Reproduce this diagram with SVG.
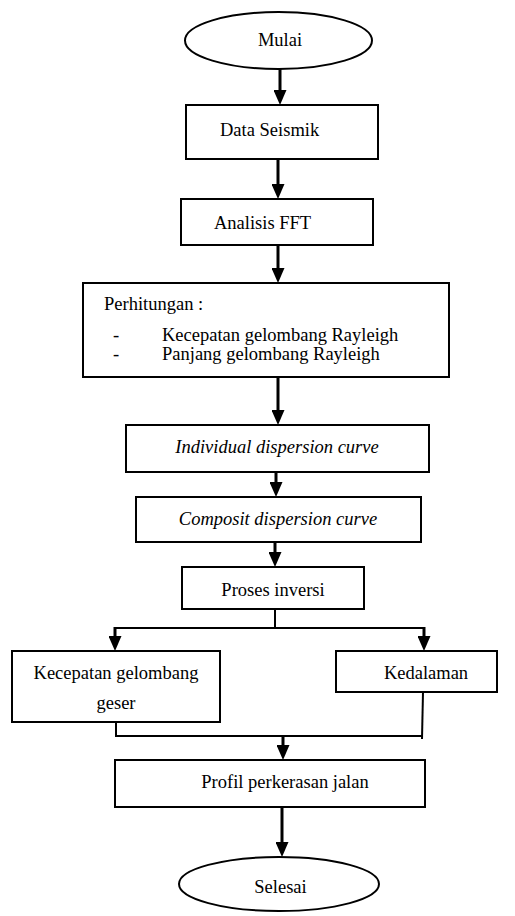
<svg xmlns="http://www.w3.org/2000/svg" width="515" height="916" viewBox="0 0 515 916">
<style>
.n{fill:#fff;stroke:#000;stroke-width:2}
.t{font-family:"Liberation Serif","Times New Roman",serif;font-size:18.5px;fill:#000}
.c{text-anchor:middle}
.i{font-style:italic}
.ln{fill:none;stroke:#000;stroke-width:2}
.sh{fill:none;stroke:#000;stroke-width:3}
</style>
<defs>
<marker id="ah" markerUnits="userSpaceOnUse" viewBox="0 0 15 13" markerWidth="15" markerHeight="13" refX="3" refY="6.5" orient="auto">
<path d="M0,0 L15,6.5 L0,13 z" fill="#000"/>
</marker>
</defs>
<rect width="515" height="916" fill="#fff"/>
<g id="connectors">
<line class="sh" x1="280" y1="69" x2="280" y2="93" marker-end="url(#ah)"/>
<line class="sh" x1="278" y1="159" x2="278" y2="187" marker-end="url(#ah)"/>
<line class="sh" x1="278" y1="245" x2="278" y2="271" marker-end="url(#ah)"/>
<line class="sh" x1="278" y1="377" x2="278" y2="413" marker-end="url(#ah)"/>
<line class="sh" x1="276" y1="472" x2="276" y2="485" marker-end="url(#ah)"/>
<line class="sh" x1="275" y1="542" x2="275" y2="555" marker-end="url(#ah)"/>
<polyline class="ln" points="275,609 275,628"/>
<polyline class="ln" points="115,628 424,628"/>
<line class="sh" x1="115" y1="627" x2="115" y2="639" marker-end="url(#ah)"/>
<line class="sh" x1="424" y1="627" x2="424" y2="639" marker-end="url(#ah)"/>
<polyline class="ln" points="116,722 116,736 422,736"/>
<polyline class="ln" points="423,692 422,739"/>
<line class="sh" x1="283" y1="736" x2="283" y2="748" marker-end="url(#ah)"/>
<line class="sh" x1="282" y1="807" x2="282" y2="845" marker-end="url(#ah)"/>
</g>
<g id="mulai">
<ellipse class="n" cx="278.5" cy="40.5" rx="93.5" ry="28.5"/>
<text class="t c" x="280" y="46">Mulai</text>
</g>
<g id="data-seismik">
<rect class="n" x="186" y="105" width="192" height="54"/>
<text class="t" x="220" y="136">Data Seismik</text>
</g>
<g id="analisis-fft">
<rect class="n" x="181" y="199" width="192" height="46"/>
<text class="t" x="214" y="229">Analisis FFT</text>
</g>
<g id="perhitungan">
<rect class="n" x="83" y="283" width="366" height="94"/>
<text class="t" x="104" y="310">Perhitungan :</text>
<text class="t" x="113" y="341">-</text>
<text class="t" x="162" y="341">Kecepatan gelombang Rayleigh</text>
<text class="t" x="113" y="360">-</text>
<text class="t" x="162" y="360">Panjang gelombang Rayleigh</text>
</g>
<g id="individual">
<rect class="n" x="126" y="425" width="303" height="47"/>
<text class="t c i" x="277" y="453">Individual dispersion curve</text>
</g>
<g id="composit">
<rect class="n" x="136" y="497" width="285" height="45"/>
<text class="t c i" x="278" y="525">Composit dispersion curve</text>
</g>
<g id="proses-inversi">
<rect class="n" x="182" y="567" width="182" height="42"/>
<text class="t c" x="273" y="596">Proses inversi</text>
</g>
<g id="kecepatan-geser">
<rect class="n" x="12" y="651" width="208" height="71"/>
<text class="t c" x="116" y="679">Kecepatan gelombang</text>
<text class="t c" x="116" y="709">geser</text>
</g>
<g id="kedalaman">
<rect class="n" x="336" y="651" width="161" height="41"/>
<text class="t c" x="426" y="679">Kedalaman</text>
</g>
<g id="profil">
<rect class="n" x="115" y="760" width="310" height="47"/>
<text class="t c" x="285" y="788">Profil perkerasan jalan</text>
</g>
<g id="selesai">
<ellipse class="n" cx="279" cy="884" rx="100" ry="27"/>
<text class="t c" x="280.5" y="893">Selesai</text>
</g>
</svg>
